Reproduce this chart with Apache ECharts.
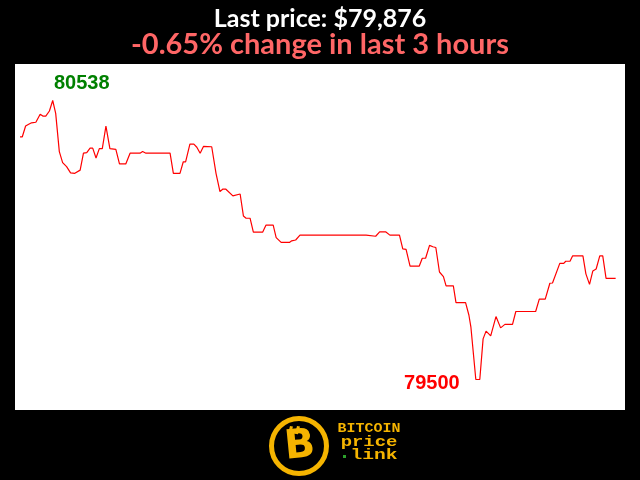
<!DOCTYPE html>
<html>
<head>
<meta charset="utf-8">
<script src="https://cdn.jsdelivr.net/npm/echarts@6/dist/echarts.min.js"></script>
<style>
html,body{margin:0;padding:0;background:#000;}
#c{width:640px;height:480px;}
</style>
</head>
<body>
<div id="c"></div>
<script>
const titleText = 'Last price: $79,876';
const subtitleText = '-0.65% change in last 3 hours';
const minutes = [0.0,0.7,1.7,2.5,3.5,4.8,6.1,6.9,7.8,8.9,9.9,10.8,11.9,12.9,14.1,15.3,16.6,18.2,19.2,20.2,21.2,22.0,23.0,24.0,24.9,26.0,27.2,29.0,30.1,32.0,33.3,36.3,37.1,38.1,45.4,46.4,48.4,49.4,50.1,51.4,52.6,53.5,54.5,55.5,58.0,58.5,59.3,60.5,61.3,62.3,64.4,65.0,66.6,67.6,68.4,69.6,70.6,73.4,74.4,76.6,77.5,79.0,81.5,82.2,83.4,84.7,104.7,104.9,107.6,108.8,110.7,111.9,114.8,115.8,116.8,118.0,120.8,121.7,122.7,123.9,124.9,125.8,126.9,128.1,128.9,131.1,131.9,134.8,135.8,136.4,137.9,139.1,140.1,141.0,142.4,143.0,144.0,145.4,146.7,149.0,150.0,156.0,157.1,158.9,160.3,161.1,163.3,164.5,165.1,166.4,167.2,170.3,171.2,172.3,173.3,174.3,175.4,176.3,177.3,180.2];
const prices = [80403,80403,80443,80449,80455,80457,80487,80480,80480,80499,80538,80490,80348,80307,80292,80269,80267,80279,80342,80344,80361,80361,80324,80359,80359,80443,80359,80356,80302,80302,80342,80342,80348,80342,80342,80267,80267,80310,80310,80376,80376,80364,80342,80367,80366,80364,80267,80199,80208,80208,80183,80190,80190,80108,80100,80100,80048,80048,80074,80074,80028,80010,80010,80016,80019,80037,80037,80033,80033,80049,80049,80037,80037,79986,79984,79922,79922,79951,79951,79999,79994,79991,79900,79883,79848,79848,79786,79786,79740,79696,79500,79500,79651,79680,79662,79662,79734,79692,79705,79705,79753,79753,79799,79799,79858,79859,79932,79932,79940,79940,79960,79960,79893,79854,79904,79911,79960,79960,79876,79876];
const logoWords = ['BITCOIN', 'price', 'link'];

const seriesData = minutes.map((m, i) => [m, prices[i]]);
const gold = '#f5b400';

const chart = echarts.init(document.getElementById('c'), null, {renderer: 'canvas'});
chart.setOption({
  animation: false,
  backgroundColor: '#000000',
  title: [
    {text: titleText, left: 'center', top: 1, textStyle: {color: '#ffffff', fontFamily: 'Lato', fontWeight: 'bold', fontSize: 25}},
    {text: subtitleText, left: 'center', top: 25, textStyle: {color: '#ff6666', fontFamily: 'Lato', fontWeight: 'bold', fontSize: 29}}
  ],
  grid: {left: 15, right: 15, top: 64, bottom: 70, show: true, backgroundColor: '#ffffff', borderWidth: 0},
  xAxis: {type: 'value', min: -1.51, max: 183.03, show: false},
  yAxis: {type: 'value', min: 79386.5, max: 80673.8, show: false, splitLine: {show: false}},
  series: [{
    type: 'line',
    data: seriesData,
    showSymbol: false,
    symbol: 'none',
    lineStyle: {color: '#ff0000', width: 1.2},
    markPoint: {
      symbol: 'circle',
      symbolSize: 1,
      itemStyle: {color: 'rgba(0,0,0,0)'},
      data: [
        {type: 'max', label: {show: true, formatter: '{c}', color: '#008000', fontFamily: 'Liberation Sans', fontWeight: 'bold', fontSize: 20, offset: [29, -17]}},
        {type: 'min', label: {show: true, formatter: '{c}', color: '#ff0000', fontFamily: 'Liberation Sans', fontWeight: 'bold', fontSize: 20, offset: [-44, 4]}}
      ]
    }
  }],
  graphic: [
    {type: 'circle', shape: {cx: 299, cy: 446, r: 27.5}, style: {fill: '#000', stroke: gold, lineWidth: 5}},
    {type: 'rect', shape: {x: 289, y: 426, width: 3, height: 8}, style: {fill: gold}, rotation: -0.25, originX: 290, originY: 430},
    {type: 'rect', shape: {x: 296, y: 426, width: 3, height: 8}, style: {fill: gold}, rotation: -0.25, originX: 297, originY: 430},
    {type: 'text', x: 300, y: 447, rotation: 0.1, style: {text: 'B', fill: gold, font: 'bold 40px "DejaVu Sans"', align: 'center', verticalAlign: 'middle'}},
    {type: 'text', x: 369, y: 429, scaleX: 1.25, style: {text: logoWords[0], fill: gold, font: 'bold 12px "Liberation Mono"', align: 'center', verticalAlign: 'middle'}},
    {type: 'text', x: 369, y: 442, scaleX: 1.35, style: {text: logoWords[1], fill: gold, font: 'bold 14px "Liberation Mono"', align: 'center', verticalAlign: 'middle'}},
    {type: 'text', x: 374, y: 455, scaleX: 1.4, style: {text: logoWords[2], fill: gold, font: 'bold 14px "Liberation Mono"', align: 'center', verticalAlign: 'middle'}},
    {type: 'rect', shape: {x: 343, y: 455, width: 3, height: 3}, style: {fill: '#2ca02c'}}
  ]
});
</script>
</body>
</html>
